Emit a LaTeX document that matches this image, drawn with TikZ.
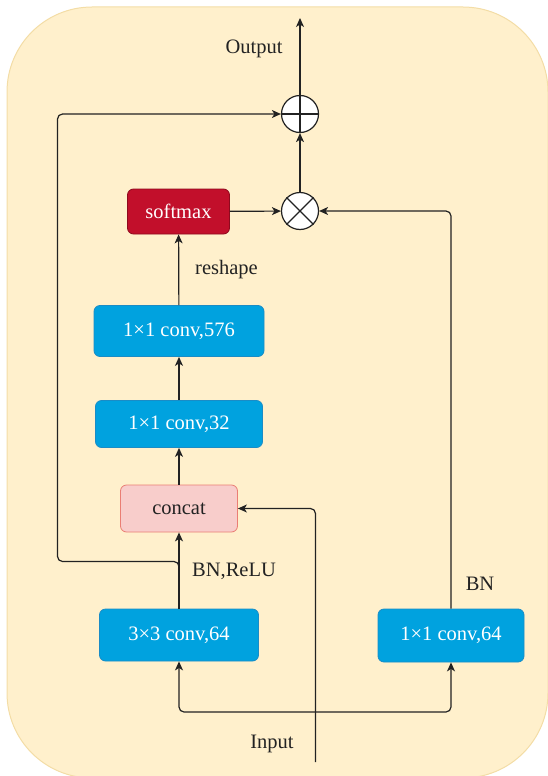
\documentclass[tikz,border=0pt]{standalone}
\usepackage{fontspec}
\setmainfont{Liberation Serif}
\usetikzlibrary{arrows.meta}
\definecolor{bgF}{HTML}{FFF0CC}
\definecolor{bgS}{HTML}{F3DDA6}
\definecolor{blueF}{HTML}{00A2DF}
\definecolor{blueS}{HTML}{1A8CC6}
\definecolor{redF}{HTML}{C20F2B}
\definecolor{redS}{HTML}{8E0A1E}
\definecolor{pinkF}{HTML}{F8CDCB}
\definecolor{pinkS}{HTML}{EA7E74}
\definecolor{inkC}{HTML}{222222}
\begin{document}
\begin{tikzpicture}[x=1pt,y=-1pt,
  every node/.style={font=\fontsize{20.5}{24}\selectfont, text=inkC},
  blk/.style={draw=blueS, fill=blueF, rounded corners=6pt, line width=0.8pt, text=white, inner sep=0pt},
  redblk/.style={blk, draw=redS, fill=redF},
  pinkblk/.style={blk, draw=pinkS, fill=pinkF, text=inkC},
  opc/.style={circle, draw=inkC, fill=white, line width=1.2pt, minimum size=37pt, inner sep=0pt},
  arr/.style={draw=inkC, line width=1.2pt, -{Stealth[length=9pt,width=8pt,inset=2.5pt]}},
  ln/.style={draw=inkC, line width=1.2pt}
]
\useasboundingbox (0,0) rectangle (547,776);
\draw[fill=bgF, draw=bgS, line width=1pt, rounded corners=85pt] (7,7) rectangle (548,778);

% nodes
\node[redblk, minimum width=102pt, minimum height=45pt] (sm) at (178.5,211.5) {softmax};
\node[blk, minimum width=170pt, minimum height=51pt] (c576) at (179,331) {1×1 conv,576};
\node[blk, minimum width=167pt, minimum height=47pt] (c32) at (179,424) {1×1 conv,32};
\node[pinkblk, minimum width=117pt, minimum height=47pt] (cat) at (179,508.5) {concat};
\node[blk, minimum width=159pt, minimum height=52pt] (c3) at (179,635) {3×3 conv,64};
\node[blk, minimum width=146pt, minimum height=53pt] (c1) at (451,635.5) {1×1 conv,64};
\node[opc] (plus) at (300,114) {};
\node[opc] (mul) at (300,211) {};
\draw[ln] (plus.north) -- (plus.south) (plus.west) -- (plus.east);
\draw[ln] (mul.north west) -- (mul.south east) (mul.north east) -- (mul.south west);

% labels
\node (lout) at (254,49) {Output};
\node (lresh) at (226.5,270) {reshape};
\node (lbnr) at (234,571) {BN,ReLU};
\node (lbn) at (480,584) {BN};
\node (lin) at (272,744) {Input};

% coordinates
\coordinate (outEnd) at (300,18);
\coordinate (skL) at (57.5,561.5);
\coordinate (in) at (315.5,762);
\coordinate (split) at (315.5,712);

% connectors
\draw[arr] (plus) -- (outEnd);
\draw[arr] (mul) -- (plus);
\draw[arr] (sm) -- (mul);
\draw[arr, rounded corners=5pt] (c1.north) |- (mul.east);
\draw[arr] (c576) -- (sm);
\draw[arr] (c32) -- (c576);
\draw[arr] (cat) -- (c32);
\draw[arr] (c3) -- (cat);
\draw[arr, rounded corners=5pt] (c3.north) |- (skL) |- (plus.west);
\draw[arr, rounded corners=5pt] (in) |- (cat.east);
\draw[arr, rounded corners=5pt] (split) -| (c3.south);
\draw[arr, rounded corners=5pt] (split) -| (c1.south);
\end{tikzpicture}
\end{document}
